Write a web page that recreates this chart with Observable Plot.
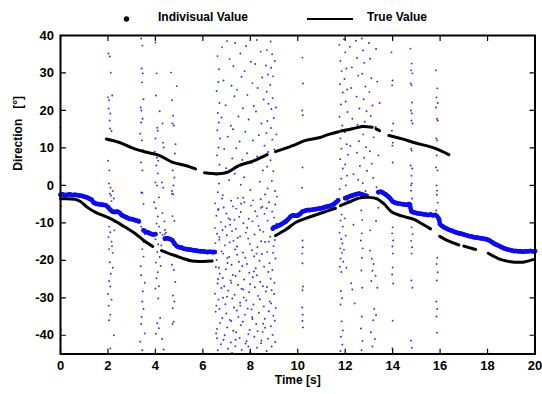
<!DOCTYPE html>
<html><head><meta charset="utf-8">
<script src="https://cdn.jsdelivr.net/npm/d3@7"></script>
<script src="https://cdn.jsdelivr.net/npm/@observablehq/plot@0.6"></script>
<style>
body{margin:0;background:#fff}
#wrap{position:relative;width:542px;height:394px;font-family:"Liberation Sans",Arial,sans-serif}
#legend{position:absolute;left:0;top:0}
</style>
</head><body><div id="wrap"></div>
<script>
// ---- axis ticks ----
const xTicks = [0,2,4,6,8,10,12,14,16,18,20];
const yTicks = [-40,-30,-20,-10,0,10,20,30,40];
const legendLabels = ["Indivisual Value", "True Value"];
const xLabel = "Time [s]";
const yLabel = "Direction\u00a0\u00a0\u00a0[°]";

// ---- True Value (black) segments: lower track ----
const trueLower1 = [[0,-3.6],[0.6,-3.7],[0.84,-4.3],[1.12,-5.8],[1.48,-7.2],[1.97,-8.5],[2.32,-9.6],[2.74,-11.2],[3.16,-12.9],[3.51,-14.7],[3.89,-16.3]];
const trueLower2 = [[4.26,-17.4],[4.71,-18.5],[5.13,-19.4],[5.55,-20.2],[6.0,-20.3],[6.39,-20.2]];
const trueLower3 = [[9.06,-13.4],[9.5,-11.8],[9.91,-9.9],[10.47,-8.5],[11.03,-7.3],[11.59,-6.1]];
const trueLower4 = [[11.8,-5.4],[12.23,-4.3],[12.58,-3.4],[13.0,-3.2],[13.35,-3.6],[13.63,-4.9],[13.98,-7.2],[14.41,-8.2],[14.9,-9.1],[15.25,-10.3],[15.6,-11.6]];
const trueLower5 = [[15.98,-13.6],[16.37,-14.9],[16.79,-15.9]];
const trueLower6 = [[17.0,-16.2],[17.5,-17.1]];
const trueLower7 = [[18.03,-18.1],[18.48,-19.6],[18.9,-20.3],[19.46,-20.5],[19.91,-19.8]];
// ---- True Value (black) segments: upper track ----
const trueUpper1 = [[1.93,12.4],[2.46,11.5],[3.02,10.0],[3.58,8.9],[4.15,8.0],[4.71,6.2],[5.27,5.3],[5.69,4.4]];
const trueUpper2 = [[6.07,3.4],[6.67,3.1],[7.03,3.5],[7.52,5.3],[8.08,6.4],[8.71,8.2]];
const trueUpper3 = [[9.06,9.0],[9.63,10.2],[9.91,10.9],[10.33,12.0],[10.89,12.7],[11.31,13.6],[11.72,14.3]];
const trueUpper4 = [[11.82,14.5],[12.30,15.1],[12.72,15.7],[13.14,15.5]];
const trueUpper5 = [[13.3,15.1],[13.45,14.6]];
const trueUpper6 = [[13.84,13.3],[14.4,12.4],[14.97,11.3],[15.53,10.4],[15.95,9.5],[16.37,8.2]];

// ---- Individual values: dense band (segments) ----
const band1 = [[0,-2.5],[0.1,-2.4],[0.2,-2.6],[0.3,-2.5],[0.4,-2.4],[0.5,-2.6],[0.6,-2.5],[0.7,-2.6],[0.8,-2.7],[0.9,-2.8],[1.0,-3.0],[1.1,-3.2],[1.2,-3.5],[1.3,-3.8],[1.4,-4.6],[1.5,-4.9],[1.6,-5.0],[1.7,-5.1],[1.8,-5.2],[1.9,-5.3],[2.0,-5.8],[2.1,-6.5],[2.2,-7.0],[2.3,-7.1],[2.4,-7.0],[2.5,-7.4],[2.6,-8.0],[2.7,-8.3],[2.8,-8.6],[2.9,-8.9],[3.0,-9.0],[3.1,-9.2],[3.2,-9.4],[3.3,-9.6]];
const band2 = [[3.5,-12.0],[3.6,-12.4],[3.7,-12.6],[3.8,-12.9],[3.9,-13.1],[4.0,-13.0]];
const band3 = [[4.4,-14.2],[4.5,-14.1],[4.6,-14.3],[4.7,-14.6],[4.8,-15.5],[4.9,-16.2],[5.0,-16.5],[5.1,-16.6],[5.2,-16.9],[5.3,-17.0],[5.4,-17.1],[5.5,-17.2],[5.6,-17.3],[5.7,-17.4],[5.8,-17.5],[5.9,-17.6],[6.0,-17.6],[6.1,-17.7],[6.2,-17.8],[6.3,-17.7],[6.4,-17.8],[6.5,-17.8]];
const band4 = [[8.95,-11.5],[9.0,-11.2],[9.1,-11.0],[9.2,-10.7],[9.3,-10.4],[9.4,-10.0],[9.5,-9.6],[9.6,-9.0],[9.7,-8.3],[9.8,-8.0],[9.9,-8.1],[10.0,-8.0],[10.1,-7.6],[10.2,-7.0],[10.3,-6.8],[10.4,-6.6],[10.5,-6.6],[10.6,-6.5],[10.7,-6.4],[10.8,-6.3],[10.9,-6.2],[11.0,-6.1],[11.1,-5.9],[11.2,-5.7],[11.3,-5.6],[11.4,-5.4],[11.5,-5.1],[11.6,-4.6],[11.7,-4.0]];
const band5 = [[12.0,-3.4],[12.1,-3.2],[12.2,-2.9],[12.3,-2.7],[12.4,-2.5],[12.5,-2.3],[12.6,-2.2],[12.7,-2.4],[12.8,-2.6],[12.9,-2.8]];
const band6 = [[13.4,-1.8],[13.5,-1.7],[13.6,-2.0],[13.7,-2.4],[13.8,-2.9],[13.9,-3.5],[14.0,-4.3],[14.1,-4.6],[14.2,-4.8],[14.3,-4.9],[14.4,-5.0],[14.5,-5.1],[14.6,-5.2],[14.7,-5.0],[14.8,-7.0],[14.9,-7.2],[15.0,-7.4],[15.1,-7.5],[15.2,-7.6],[15.3,-7.7],[15.4,-7.8],[15.5,-7.9],[15.6,-7.8],[15.7,-8.0],[15.8,-7.9],[15.95,-9.0],[16.0,-10.4],[16.1,-10.9],[16.2,-11.3],[16.3,-11.6],[16.4,-11.9],[16.5,-12.1],[16.6,-12.4],[16.7,-12.6],[16.8,-12.8],[16.9,-12.9],[17.0,-13.1],[17.1,-13.3],[17.2,-13.5],[17.3,-13.6],[17.4,-13.8],[17.5,-13.9],[17.6,-14.0],[17.7,-14.1],[17.8,-14.2],[17.9,-14.3],[18.0,-14.5],[18.1,-14.8],[18.2,-15.2],[18.3,-15.6],[18.4,-15.9],[18.5,-16.2],[18.6,-16.5],[18.7,-16.8],[18.8,-17.0],[18.9,-17.2],[19.0,-17.3],[19.1,-17.5],[19.2,-17.5],[19.3,-17.6],[19.4,-17.6],[19.5,-17.7],[19.6,-17.6],[19.7,-17.6],[19.8,-17.5],[19.9,-17.6],[20.0,-17.5]];

// ---- Individual values: scattered outliers ----
const scatterEarly = [[0.0,15.4],[0.0,2.1],[0.02,-5.5],[0.0,-41.0],[0.03,-38.5],
[2.02,35.2],[2.08,34.4],[2.12,30.1],[2.0,23.5],[2.05,22.7],[2.03,20.5],[2.1,19.2],[2.07,17.3],[2.09,15.2],[2.01,6.6],[2.06,4.0],[2.04,0.5],[2.11,-0.6],[2.08,-2.2],[2.13,-2.7],[2.18,24.0],[2.15,14.5],
[2.05,-11],[2.1,-12.5],[2.15,-15],[2.05,-17],[2.2,-18],[2.08,-20.5],[2.2,-22],[2.05,-25.5],[2.1,-27],[2.0,-29],[2.15,-30.5],[2.1,-34.5],[2.05,-36],[2.25,-40],[2.1,-43.5],[2.02,-13.8],[2.17,-16.2],[2.12,-23.6],[2.03,-32.1],[2.2,-1.5],[2.25,-3.5],[2.15,-4.2],[2.3,-9.8],[2.27,-12],
[3.4,39.2],[3.45,37.3],[3.42,31.2],[3.47,29.9],[3.44,27.5],[3.38,20.8],[3.41,20.0],[3.46,17.8],[3.4,16.8],[3.43,12.0],[3.39,6.1],[3.45,4.0],[3.41,-1.9],[3.5,23.0],[3.36,13.8],[3.48,9.4],
[3.45,-2],[3.5,-5],[3.4,-11],[3.55,-13],[3.45,-17],[3.5,-19],[3.4,-24],[3.55,-26],[3.45,-31],[3.5,-33],[3.4,-37],[3.55,-39.5],[3.45,-44],[3.52,-15.2],[3.38,-21.6],[3.47,-28.3],[3.42,-35.1],[3.36,-41.7],
[4.0,38.1],[4.05,29.9],[4.02,24.0],[4.08,15.4],[4.1,14.6],[4.0,12.5],[4.06,7.4],[4.12,6.6],[4.04,5.3],[4.1,3.2],[4.0,0.8],[4.07,0.0],[4.15,-3.2],[4.3,16.5],[4.32,11.4],[4.35,10.1],[4.28,0.8],[4.33,-0.6],[4.18,19.8],[3.97,9.0],
[3.95,-4.5],[4.02,-6.1],[4.1,-8.3],[4.05,-10.2],[4.15,-11.0],[4.2,-12.6],[4.0,-14.4],[4.12,-15.7],[4.25,-16.0],[4.3,-13.2],[4.08,-17.8],[4.18,-19.1],[4.02,-20.6],[4.22,-21.5],[4.1,-23.2],[4.05,-24.8],[4.15,-26.9],[4.0,-27.5],[4.12,-30.2],[4.2,-35.4],[4.08,-36.8],[4.15,-38.1],[4.02,-39.6],[4.28,-41.0],[4.35,-43.8],[4.3,-7.4],[4.38,-9.6],[4.4,-11.9],[4.4,-13.0],[4.45,-12.6],
[4.66,30.1],[4.7,22.7],[4.75,18.6],[4.72,16.5],[4.78,16.0],[4.68,6.1],[4.73,4.0],[4.8,2.1],[4.76,0.0],[4.7,-2.2],[4.85,11.0],[4.9,26.5],[4.82,8.5],
[4.7,-1.5],[4.75,-2.4],[4.72,-8.2],[4.8,-9.5],[4.76,-14.8],[4.82,-16.0],[4.7,-21.2],[4.78,-22.6],[4.74,-29.4],[4.8,-31.0],[4.73,-32.8],[4.77,-36.4],[4.72,-37.0],[4.84,-25.8],[4.9,-18.7]];

const scatterMidUpper = [[6.62,34.5],[6.68,31.0],[6.65,27.6],[6.58,25.2],[6.7,22.0],[6.63,19.3],[6.67,16.8],[6.61,14.7],[6.72,12.5],[6.66,10.1],[6.6,8.0],[6.7,5.5],[6.57,2.8],[6.68,0.5],[6.63,-1.8],
[6.81,36.9],[7.02,38.5],[7.13,33.7],[6.87,28.0],[7.21,26.6],[6.96,21.4],[6.79,18.1],[7.18,15.9],[7.05,13.0],[6.9,9.7],[7.24,7.2],[6.98,4.6],[7.11,1.4],[6.84,-2.6],
[7.36,38.0],[7.58,35.2],[7.29,31.8],[7.63,29.0],[7.44,25.5],[7.33,23.8],[7.69,20.6],[7.5,18.4],[7.27,15.0],[7.55,11.7],[7.41,9.9],[7.66,6.8],[7.35,3.1],[7.6,0.2],[7.47,-3.4],
[7.82,37.2],[8.02,33.0],[7.76,30.5],[8.09,27.3],[7.88,24.1],[8.15,21.2],[7.93,17.6],[7.79,14.3],[8.11,12.0],[7.86,8.6],[8.05,6.0],[7.74,2.2],[8.0,-1.2],
[8.27,38.8],[8.44,35.7],[8.21,32.4],[8.5,28.8],[8.31,26.0],[8.56,22.9],[8.24,19.7],[8.47,16.5],[8.36,13.4],[8.6,10.6],[8.29,7.7],[8.53,4.0],[8.4,1.0],[8.62,-2.4],
[8.7,36.1],[8.66,32.0],[8.74,29.6],[8.69,25.0],[8.77,21.8],[8.72,17.2],[8.68,14.0],[8.75,8.9],[8.71,5.0],[8.73,-0.8],
[8.86,38.4],[8.92,35.0],[8.88,31.4],[8.96,29.1],[8.84,26.8],[8.94,23.3],[8.89,20.4],[8.99,18.0],[8.87,15.3],[8.93,12.2],[9.01,9.6],[8.85,6.7],[8.97,3.8],[8.91,1.2],[9.04,-1.5],[9.08,20.8],[9.1,13.6],[9.12,-3.0],[9.03,33.2]];

const scatterMidLower = [[6.52,-4.8],[6.81,-3.5],[6.88,-5.9],[7.19,-4.1],[7.27,-5.6],[7.61,-4.9],[7.7,-3.3],[8.03,-5.4],[8.12,-4.0],[8.44,-3.7],[8.51,-5.7],[8.79,-4.5],[9.05,-5.1],
[6.57,-8.1],[6.64,-6.6],[6.99,-7.5],[7.08,-8.8],[7.41,-6.2],[7.53,-8.4],[7.6,-7.1],[7.93,-8.9],[8.21,-6.9],[8.29,-8.2],[8.6,-7.6],[8.69,-6.1],[9.0,-8.6],
[6.51,-11.4],[6.76,-9.8],[6.83,-11.9],[7.15,-10.5],[7.33,-9.2],[7.39,-11.6],[7.71,-10.1],[7.87,-11.3],[8.09,-9.6],[8.35,-10.8],[8.41,-11.9],[8.73,-9.4],[8.95,-11.0],[9.1,-10.2],
[6.6,-12.9],[6.69,-14.5],[7.01,-13.3],[7.23,-12.2],[7.29,-14.8],[7.57,-13.6],[7.81,-12.6],[7.91,-14.2],[8.18,-13.1],[8.46,-14.9],[8.55,-12.4],[8.84,-13.7],[9.04,-14.6],
[6.53,-15.4],[6.79,-17.6],[6.93,-16.0],[7.13,-15.2],[7.36,-17.1],[7.44,-16.3],[7.69,-17.9],[7.98,-15.6],[8.07,-17.3],[8.3,-16.5],[8.62,-15.1],[8.71,-17.8],[8.98,-16.2],
[6.58,-19.9],[6.86,-18.2],[7.04,-20.7],[7.11,-19.1],[7.45,-18.5],[7.52,-20.4],[7.79,-19.3],[7.86,-21.0],[8.16,-18.9],[8.39,-20.1],[8.49,-18.3],[8.81,-20.8],[9.06,-19.5],
[6.55,-21.8],[6.71,-23.6],[6.97,-22.4],[7.21,-21.2],[7.26,-23.9],[7.55,-22.9],[7.66,-21.5],[7.96,-23.3],[8.23,-22.1],[8.27,-24.0],[8.58,-21.7],[8.76,-23.1],[8.93,-22.6],
[6.62,-26.2],[6.84,-24.7],[6.9,-26.9],[7.17,-25.4],[7.38,-24.2],[7.48,-26.6],[7.74,-25.1],[7.99,-26.4],[8.11,-24.5],[8.42,-25.8],[8.53,-26.9],[8.86,-24.9],[9.02,-26.0],
[6.51,-28.9],[6.78,-27.4],[7.02,-29.7],[7.07,-28.1],[7.34,-29.2],[7.63,-27.6],[7.72,-29.9],[7.95,-28.5],[8.19,-27.2],[8.33,-29.5],[8.66,-28.3],[8.7,-27.1],[9.0,-29.0],
[6.57,-32.1],[6.66,-30.5],[6.95,-31.7],[7.24,-30.2],[7.31,-32.6],[7.57,-31.3],[7.83,-30.7],[7.89,-32.9],[8.13,-31.8],[8.4,-30.4],[8.57,-32.3],[8.82,-31.0],[9.07,-32.7],
[6.54,-33.7],[6.82,-35.4],[6.99,-34.2],[7.14,-35.9],[7.43,-33.4],[7.5,-35.1],[7.77,-34.5],[8.05,-33.1],[8.09,-35.7],[8.36,-34.0],[8.61,-35.6],[8.78,-33.6],[8.97,-34.8],
[6.6,-38.3],[6.73,-36.7],[7.03,-37.9],[7.2,-36.2],[7.28,-38.8],[7.6,-37.3],[7.68,-36.4],[7.97,-38.6],[8.25,-37.0],[8.31,-38.9],[8.54,-36.9],[8.87,-37.6],[9.03,-36.1],
[6.56,-39.5],[6.87,-41.2],[6.92,-40.0],[7.18,-41.9],[7.4,-39.2],[7.55,-40.7],[7.84,-41.6],[7.92,-39.7],[8.17,-40.4],[8.47,-41.4],[8.52,-39.1],[8.75,-40.9],[9.05,-41.8],
[6.63,-44.0],[6.76,-42.4],[7.06,-43.6],[7.23,-44.7],[7.37,-42.9],[7.64,-43.9],[7.8,-42.2],[8.0,-44.5],[8.28,-43.3],[8.45,-42.1],[8.69,-44.2],[8.9,-43.0],
[6.66,-6.3],[7.15,-9.1],[7.47,-14.0],[7.03,-19.4],[7.7,-27.8],[8.26,-18.2],[6.85,-30.0],[7.38,-41.2],[8.08,-35.2],[8.45,-6.0],[8.78,-15.0],[7.92,-43.0],[6.68,-22.0],[7.58,-32.1],[8.62,-38.0],[6.95,-11.0],[7.2,-26.0],[8.15,-23.0],[8.9,-28.0],[7.75,-4.5],[6.7,-13.8],[6.64,-25.0],[6.7,-33.0],[6.6,-40.8],[8.92,-7.0],[8.96,-18.0],[8.88,-31.5],[8.94,-39.9]];

const scatterLate = [[10.2,34.1],[10.22,27.2],[10.19,20.0],[10.21,18.7],[10.2,4.8],[10.18,-0.6],[10.2,-14.7],[10.21,-16.5],[10.19,-18.2],[10.2,-20.8],[10.22,-27.0],[10.2,-28.0],[10.19,-32.6],[10.21,-34.5],[10.2,-36.2],[10.22,-37.9],
[11.75,37.5],[11.8,33.2],[11.85,30.5],[11.78,27.0],[11.9,24.8],[11.82,21.6],[11.76,18.3],[11.88,16.0],[11.8,12.5],[11.84,9.8],[11.79,7.0],[11.9,4.5],[11.83,1.8],[11.77,-1.0],
[11.95,39.0],[12.0,35.5],[12.05,31.2],[11.97,28.4],[12.08,25.6],[12.02,22.4],[12.1,19.6],[11.98,14.2],[12.06,11.0],[12.12,8.2],[12.0,5.6],[12.08,2.6],[12.03,0.0],
[12.2,37.0],[12.25,26.0],[12.3,17.8],[12.22,10.5],[12.35,3.0],[12.28,31.5],
[12.45,38.6],[12.5,34.0],[12.55,29.3],[12.48,23.7],[12.6,20.5],[12.52,16.2],[12.58,11.8],[12.5,8.7],[12.62,5.2],[12.55,1.5],
[12.7,39.2],[12.75,36.0],[12.8,32.7],[12.72,29.8],[12.85,26.4],[12.78,23.0],[12.9,19.8],[12.82,17.0],[12.76,13.6],[12.88,10.2],[12.8,7.4],[12.92,3.9],[12.74,0.6],[12.86,-1.5],
[13.0,38.0],[13.05,33.8],[13.1,28.6],[13.02,24.9],[13.15,21.3],[13.08,18.5],[13.2,12.8],[13.04,9.1],[13.12,5.8],[13.18,2.0],[13.3,36.4],[13.35,27.7],[13.28,15.6],[13.4,8.0],[13.32,-0.5],[13.45,22.0],
[11.78,-5.5],[11.85,-7.8],[11.8,-9.4],[11.9,-11.0],[11.76,-12.6],[11.83,-14.3],[11.88,-15.5],[11.79,-16.8],[11.86,-18.0],[11.8,-19.5],[11.92,-20.4],[11.77,-21.7],[11.84,-23.1],[11.98,-8.8],[12.02,-13.4],[11.95,-17.2],[12.05,-22.0],[11.82,-28.2],[11.87,-30.1],[11.8,-31.8],[11.85,-36.3],[11.9,-38.7],[11.82,-40.4],[11.88,-42.5],[11.8,-44.2],[12.1,-4.0],
[12.25,-26.1],[12.3,-27.8],[12.4,-31.5],[12.35,-10.5],
[12.68,-6.7],[12.72,-9.2],[12.7,-12.8],[12.66,-14.7],[12.74,-16.8],[12.7,-19.3],[12.68,-22.7],[12.72,-27.3],[12.7,-35.0],[12.66,-38.2],[12.73,-41.5],[12.69,-44.0],
[13.05,-17.4],[13.12,-19.6],[13.2,-21.0],[13.15,-22.8],[13.28,-24.1],[13.1,-25.5],[13.35,-27.3],[13.22,-33.0],[13.3,-34.6],[13.18,-36.0],[13.08,-39.2],[13.25,-41.0],[13.15,-43.0],[13.4,-6.0],[13.3,-9.5],[13.05,-12.0],
[13.95,35.5],[14.0,28.0],[13.98,26.7],[14.02,16.5],[13.97,14.6],[14.01,11.4],[13.99,10.6],[14.0,6.1],
[14.0,-11.2],[13.98,-12.8],[14.02,-14.7],[13.99,-16.3],[14.01,-18.2],[14.0,-21.9],[13.98,-23.8],[14.02,-26.2],[14.0,-36.1],[13.99,-43.5],
[14.75,36.5],[14.8,32.5],[14.78,30.7],[14.83,29.9],[14.76,27.2],[14.8,26.7],[14.82,22.1],[14.77,20.0],[14.81,19.2],[14.79,17.3],[14.84,16.5],[14.78,9.8],[14.8,9.3],[14.76,5.3],[14.82,4.5],[14.79,2.6],[14.81,0.5],[14.77,0.0],
[14.78,-1.4],[14.82,-3.5],[14.8,-5.0],[14.76,-6.7],[14.8,-11.2],[14.84,-13.0],[14.78,-14.8],[14.82,-16.5],[14.8,-18.2],[14.79,-25.4],[14.83,-27.3],[14.77,-41.4],[14.81,-43.3],
[15.82,30.7],[15.88,25.9],[15.85,23.5],[15.9,22.0],[15.83,20.8],[15.87,17.8],[15.9,17.3],[15.84,12.5],[15.88,12.0],[15.86,8.0],[15.83,4.8],[15.89,4.0],[15.85,0.0],[15.87,-1.4],
[15.86,-2.5],[15.9,-4.6],[15.84,-6.7],[15.88,-19.3],[15.85,-21.0],[15.9,-23.2],[15.86,-25.4],[15.84,-31.0],[15.88,-33.0],[15.85,-35.0],[15.87,-39.3]];

// ---- build tables for the library ----
const toPts = (arr) => arr.map(([x, y]) => ({x, y}));
const segs = (list) => list.flatMap((arr, i) => arr.map(([x, y]) => ({x, y, s: i})));
const trueLines = segs([trueLower1,trueLower2,trueLower3,trueLower4,trueLower5,trueLower6,trueLower7,trueUpper1,trueUpper2,trueUpper3,trueUpper4,trueUpper5,trueUpper6]);
const band = segs([band1, band2, band3, band4, band5, band6]);
const scatter = toPts([...scatterEarly, ...scatterMidUpper, ...scatterMidLower, ...scatterLate]);

const tickShape = {draw(ctx, l) { ctx.moveTo(0, 0); ctx.lineTo(0, -l); }};
const TL = 5;
const BLUE = "#0a0aff";

const plot = Plot.plot({
  width: 542, height: 394,
  marginLeft: 60, marginRight: 7.5, marginTop: 35, marginBottom: 40.5,
  style: {fontFamily: "'Liberation Sans', Arial, sans-serif", fontSize: "13px", fontWeight: "bold", color: "black", background: "white"},
  x: {domain: [0, 20]},
  y: {domain: [-45, 40]},
  marks: [
    Plot.dot(scatter, {x: "x", y: "y", r: 0.95, fill: "#2b2bff", stroke: "none"}),
    Plot.line(band, {x: "x", y: "y", z: "s", stroke: BLUE, strokeWidth: 4.5, curve: "catmull-rom", strokeLinecap: "round"}),
    Plot.dot(band, {x: "x", y: "y", r: 2.3, fill: BLUE, stroke: "none"}),
    Plot.line(trueLines, {x: "x", y: "y", z: "s", stroke: "black", strokeWidth: 3, strokeLinecap: "round", curve: "catmull-rom"}),
    Plot.frame({stroke: "black", strokeWidth: 2}),
    // inward ticks on all four sides
    Plot.vector(xTicks, {x: d => d, y: -45, length: TL, rotate: 0, anchor: "start", shape: tickShape, stroke: "black", strokeWidth: 1.2}),
    Plot.vector(xTicks, {x: d => d, y: 40, length: TL, rotate: 180, anchor: "start", shape: tickShape, stroke: "black", strokeWidth: 1.2}),
    Plot.vector(yTicks, {x: 0, y: d => d, length: TL, rotate: 90, anchor: "start", shape: tickShape, stroke: "black", strokeWidth: 1.2}),
    Plot.vector(yTicks, {x: 20, y: d => d, length: TL, rotate: -90, anchor: "start", shape: tickShape, stroke: "black", strokeWidth: 1.2}),
    Plot.axisX({ticks: xTicks, tickSize: 0, tickPadding: 7, label: null, tickFormat: d => String(d)}),
    Plot.axisY({ticks: yTicks, tickSize: 0, tickPadding: 6.5, label: null, tickFormat: d => String(d)}),
    Plot.text([xLabel], {frameAnchor: "bottom", dy: 30, fontSize: 12, fontWeight: "bold", fill: "black"}),
    Plot.text([yLabel], {frameAnchor: "left", dx: -42, dy: -24, rotate: -90, fontSize: 12, fontWeight: "bold", fill: "black"})
  ]
});

const wrap = document.getElementById("wrap");
wrap.appendChild(plot);

// ---- legend (above the plot area) ----
const leg = d3.create("svg").attr("id", "legend").attr("width", 542).attr("height", 34)
  .style("font-family", "'Liberation Sans', Arial, sans-serif").style("font-weight", "bold").style("font-size", "12px");
leg.append("circle").attr("cx", 126.5).attr("cy", 19).attr("r", 2.7).attr("fill", "black");
leg.append("text").attr("x", 158).attr("y", 21.3).text(legendLabels[0]);
leg.append("line").attr("x1", 307).attr("x2", 353).attr("y1", 19).attr("y2", 19).attr("stroke", "black").attr("stroke-width", 2);
leg.append("text").attr("x", 367).attr("y", 21.3).text(legendLabels[1]);
wrap.appendChild(leg.node());
</script>
</body></html>
